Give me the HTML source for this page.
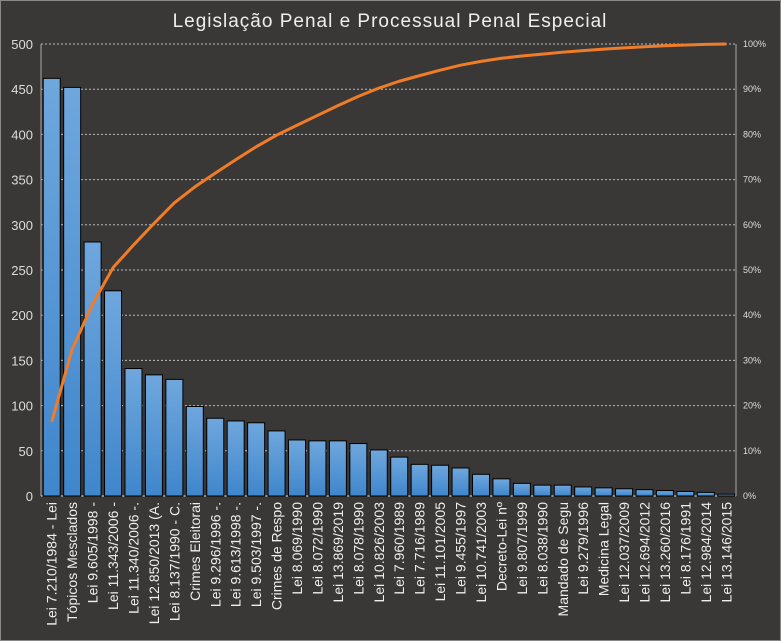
<!DOCTYPE html>
<html><head><meta charset="utf-8"><style>
html,body{margin:0;padding:0;background:#3a3836;}
svg{display:block;}
text{font-family:"Liberation Sans",sans-serif;}
</style></head><body>
<svg id="c" width="781" height="641" xmlns="http://www.w3.org/2000/svg">
<defs><linearGradient id="g" x1="0" y1="0" x2="0" y2="1"><stop offset="0" stop-color="#6fa7dd"/><stop offset="1" stop-color="#3f86cc"/></linearGradient></defs>
<rect x="0.5" y="0.5" width="780" height="640" fill="#3a3836" stroke="#888"/>
<text x="390" y="27" text-anchor="middle" font-size="19" fill="#eee" letter-spacing="1">Legislação Penal e Processual Penal Especial</text>
<g id="grid"></g><g id="bars"></g><g id="labs"></g>
</svg>
<script>
var vals=[462,452,281,227,141,134,129,99,86,83,81,72,62,61,61,58,51,43,35,34,31,24,19,14,12,12,10,9,8,7,6,5,4,2];
var names=["Lei 7.210/1984 - Lei","Tópicos Mesclados","Lei 9.605/1998 -","Lei 11.343/2006 -","Lei 11.340/2006 -.","Lei 12.850/2013 (A.","Lei 8.137/1990 - C.","Crimes Eleitorai","Lei 9.296/1996 -.","Lei 9.613/1998 -.","Lei 9.503/1997 -.","Crimes de Respo","Lei 8.069/1990","Lei 8.072/1990","Lei 13.869/2019","Lei 8.078/1990","Lei 10.826/2003","Lei 7.960/1989","Lei 7.716/1989","Lei 11.101/2005","Lei 9.455/1997","Lei 10.741/2003","Decreto-Lei nº","Lei 9.807/1999","Lei 8.038/1990","Mandado de Segu","Lei 9.279/1996","Medicina Legal","Lei 12.037/2009","Lei 12.694/2012","Lei 13.260/2016","Lei 8.176/1991","Lei 12.984/2014","Lei 13.146/2015"];
var L=41,R=736,T=44,B=496,H=B-T,ns="http://www.w3.org/2000/svg";
function el(p,t,a,txt){var e=document.createElementNS(ns,t);for(var k in a)e.setAttribute(k,a[k]);if(txt!=null)e.textContent=txt;document.getElementById(p).appendChild(e);return e;}
for(var i=0;i<=10;i++){var y=B-H*i/10;
 if(i>0)el("grid","line",{x1:L,x2:R,y1:y,y2:y,stroke:"#bbb","stroke-width":1,"stroke-dasharray":"2,2"});
 el("labs","text",{x:736+7,y:y+3,"font-size":9,fill:"#ddd"},(i*10)+"%");
}
for(var i=0;i<=10;i++){var y=B-H*i/10;el("labs","text",{x:33,y:y+5,"font-size":13,fill:"#ddd","text-anchor":"end"},String(i*50));}
el("grid","line",{x1:L,x2:L,y1:T,y2:B,stroke:"#aaa"});
el("grid","line",{x1:R,x2:R,y1:T,y2:B,stroke:"#aaa"});
var w=(R-L)/34,tot=0;vals.forEach(function(v){tot+=v});var cum=0,pts=[];
vals.forEach(function(v,i){var cx=L+w*(i+0.5)+0.5,h=v*H/500;
 el("bars","rect",{x:cx-8.5,y:B-h,width:17,height:h,fill:"url(#g)",stroke:"#000","stroke-width":1});
 cum+=v;pts.push(cx+","+(B-H*cum/tot));
 el("labs","text",{x:0,y:0,"font-size":14,fill:"#eee","text-anchor":"end",transform:"translate("+(cx+5)+","+(B+6)+") rotate(-90)"},names[i]);
});
el("grid","line",{x1:L,x2:R,y1:B,y2:B,stroke:"#ddd"});
el("labs","polyline",{points:pts.join(" "),fill:"none",stroke:"#f07c28","stroke-width":3,"stroke-linejoin":"round"});
</script>
</body></html>
